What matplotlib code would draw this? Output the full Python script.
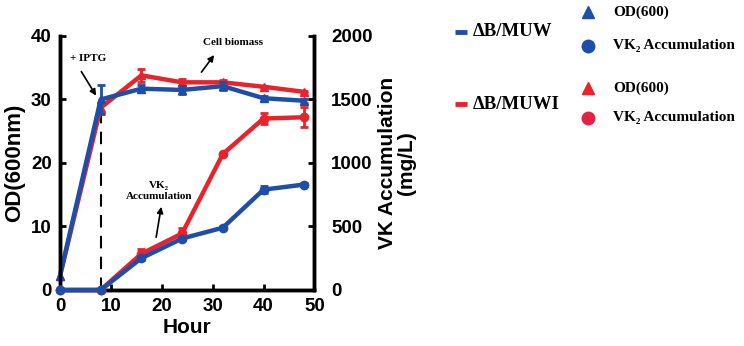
import numpy as np
import matplotlib
matplotlib.use('Agg')
import matplotlib.pyplot as plt

# data
hours = [0, 8, 16, 24, 32, 40, 48]
od_muw = [2.2, 30.0, 31.7, 31.5, 32.1, 30.2, 29.8]
od_muw_err = [np.nan, 2.3, 0.6, 0.6, 0.6, 0.3, 0.3]
od_muwi = [2.2, 28.7, 33.8, 32.7, 32.7, 32.0, 31.2]
od_muwi_err = [np.nan, 0.8, 1.0, 0.5, 0.3, 0.2, 0.2]
vk_muw = [0, 0, 250, 405, 490, 790, 830]
vk_muw_err = [np.nan, np.nan, 15, 10, 10, 25, 10]
vk_muwi = [0, 0, 285, 445, 1070, 1350, 1360]
vk_muwi_err = [np.nan, np.nan, 40, 40, 10, 45, 80]

blue = '#1f4ea8'
red = '#e8232b'
sans = ['Liberation Sans', 'DejaVu Sans']
serif = ['Liberation Serif', 'DejaVu Serif']

fig = plt.figure(figsize=(7.44, 3.46), dpi=100)
ax = fig.add_axes([0.0806, 0.162, 0.342, 0.734])
ax2 = ax.twinx()

# OD lines (left)
ax.errorbar(hours, od_muwi, yerr=od_muwi_err, color=red, lw=3.2, marker='^', ms=6,
            capsize=3, elinewidth=2, capthick=2, zorder=3, clip_on=False)
ax.errorbar(hours, od_muw, yerr=od_muw_err, color=blue, lw=3.2, marker='^', ms=6,
            capsize=3, elinewidth=2, capthick=2, zorder=4, clip_on=False)
# VK lines (right)
ax2.errorbar(hours, vk_muwi, yerr=vk_muwi_err, color=red, lw=3.2, marker='o', ms=6,
             capsize=3, elinewidth=2, capthick=2, zorder=3, clip_on=False)
ax2.errorbar(hours, vk_muw, yerr=vk_muw_err, color=blue, lw=3.2, marker='o', ms=6,
             capsize=3, elinewidth=2, capthick=2, zorder=4, clip_on=False)

ax.plot([8, 8], [0, 29], ls=(0, (6, 4)), color='black', lw=1.5, zorder=2)

ax.set_xlim(0, 50)
ax.set_ylim(0, 40)
ax2.set_ylim(0, 2000)
ax.set_xticks([0, 10, 20, 30, 40, 50])
ax.set_yticks([0, 10, 20, 30, 40])
ax2.set_yticks([0, 500, 1000, 1500, 2000])

for a in (ax, ax2):
    a.spines['top'].set_visible(False)
    for s in ('left', 'right', 'bottom'):
        a.spines[s].set_linewidth(2.5)
    a.tick_params(direction='in', length=4, width=2, labelsize=13.5, pad=6)
    for lab in a.get_xticklabels() + a.get_yticklabels():
        lab.set_family(sans)
        lab.set_fontweight('bold')
ax2.tick_params(pad=12)

ax.set_xlabel('Hour', family=sans, fontweight='bold', fontsize=15, labelpad=2)
ax.set_ylabel('OD(600nm)', family=sans, fontweight='bold', fontsize=16, labelpad=4)
ax2.set_ylabel('VK Accumulation\n(mg/L)', family=sans, fontweight='bold', fontsize=15,
               labelpad=4, linespacing=1.0)

# annotations
arrow = dict(arrowstyle='-|>', color='black', lw=1.2, mutation_scale=9,
             shrinkA=0, shrinkB=0)
ax.text(2.0, 36.4, '+ IPTG', family=serif, fontweight='bold', fontsize=8,
        ha='left', va='center')
ax.annotate('', xy=(7.1, 30.6), xytext=(4.2, 34.4), arrowprops=arrow)
ax.text(34.0, 38.9, 'Cell biomass', family=serif, fontweight='bold', fontsize=8,
        ha='center', va='center')
ax.annotate('', xy=(30.3, 37.0), xytext=(27.8, 34.3), arrowprops=arrow)
ax.text(19.5, 15.6, 'VK\u2082\nAccumulation', family=serif, fontweight='bold',
        fontsize=8, ha='center', va='center', linespacing=1.3)
ax.annotate('', xy=(19.9, 13.1), xytext=(18.9, 8.3), arrowprops=arrow)

# legend
for yy, c, name in [(32, blue, '\u0394B/MUW'), (104, red, '\u0394B/MUWI')]:
    fig.lines.append(plt.Line2D([455 / 744, 467 / 744], [1 - yy / 346, 1 - yy / 346],
                                color=c, lw=3.5, solid_capstyle='butt',
                                transform=fig.transFigure))
    fig.text(473 / 744, 1 - yy / 346, name, color='black', fontsize=13.5,
             fontweight='bold', ha='left', va='center', family=serif)

leg_items = [('^', blue, 12, 'OD(600)'),
             ('o', blue, 46, 'VK\u2082 Accumulation'),
             ('^', red, 88, 'OD(600)'),
             ('o', '#e32345', 118, 'VK\u2082 Accumulation')]
for m, c, yy, label in leg_items:
    fig.lines.append(plt.Line2D([588 / 744], [1 - yy / 346], marker=m, color=c,
                                ms=9 if m == 'o' else 8, ls='none',
                                transform=fig.transFigure))
    fig.text(613 / 744, 1 - yy / 346, label, fontsize=11, fontweight='bold',
             ha='left', va='center', family=serif)

fig.savefig('out.png', dpi=100)
